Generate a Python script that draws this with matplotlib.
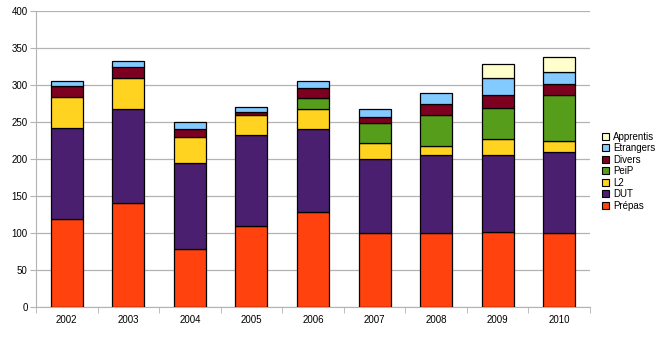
import matplotlib.pyplot as plt
import numpy as np
from matplotlib.patches import Patch

plt.rcParams['font.family'] = ['Liberation Sans', 'DejaVu Sans']

# data (stacked, bottom to top)
years = ['2002', '2003', '2004', '2005', '2006', '2007', '2008', '2009', '2010']
prepas = [119, 140, 78, 110, 128, 100, 100, 102, 100]
dut = [123, 127, 117, 122, 112, 100, 106, 103, 109]
l2 = [42, 43, 35, 27, 28, 21, 11, 22, 16]
peip = [0, 0, 0, 0, 15, 28, 43, 42, 61]
divers = [15, 15, 10, 5, 13, 8, 14, 17, 16]
etrangers = [7, 7, 10, 6, 9, 11, 15, 23, 16]
apprentis = [0, 0, 0, 0, 0, 0, 0, 19, 20]

series = [('Prépas', prepas, '#ff420e'),
          ('DUT', dut, '#4b1f6f'),
          ('L2', l2, '#ffd320'),
          ('PeiP', peip, '#579d1c'),
          ('Divers', divers, '#7e0021'),
          ('Etrangers', etrangers, '#83caff'),
          ('Apprentis', apprentis, '#ffffcc')]

fig = plt.figure(figsize=(6.65, 3.41), dpi=100)
ax = fig.add_axes([36 / 665, 1 - 307 / 341, (590 - 36) / 665, (307 - 11) / 341])

x = np.arange(len(years))
bottom = np.zeros(len(years))
for name, vals, col in series:
    vals = np.array(vals, dtype=float)
    mask = vals > 0
    ax.bar(x[mask], vals[mask], 0.52, bottom=bottom[mask], color=col,
           edgecolor='black', linewidth=0.9, zorder=3)
    bottom += vals

ax.set_xlim(-0.5, len(years) - 0.5)
ax.set_ylim(0, 400)
ax.set_yticks(range(0, 401, 50))
ax.yaxis.grid(True, color='#b3b3b3', linewidth=0.9, zorder=0)

ax.set_xticks(x)
ax.set_xticklabels(years, fontsize=7)
ax.set_xticks(np.arange(-0.5, len(years), 1), minor=True)
ax.tick_params(axis='x', which='major', length=0, pad=6)
ax.tick_params(axis='x', which='minor', length=4, color='#b3b3b3')
ax.tick_params(axis='y', labelsize=7, length=4, color='#b3b3b3', pad=2)

for s in ['top', 'right']:
    ax.spines[s].set_visible(False)
for s in ['left', 'bottom']:
    ax.spines[s].set_color('#b3b3b3')

handles = [Patch(facecolor=col, edgecolor='black', linewidth=0.8, label=name)
           for name, vals, col in series[::-1]]
fig.legend(handles=handles, loc='upper left', bbox_to_anchor=(597 / 665, 1 - 127 / 341),
           frameon=False, fontsize=7, handlelength=0.75, handleheight=0.75,
           handletextpad=0.4, labelspacing=0.15, borderpad=0)

fig.savefig('out.png', dpi=100)
